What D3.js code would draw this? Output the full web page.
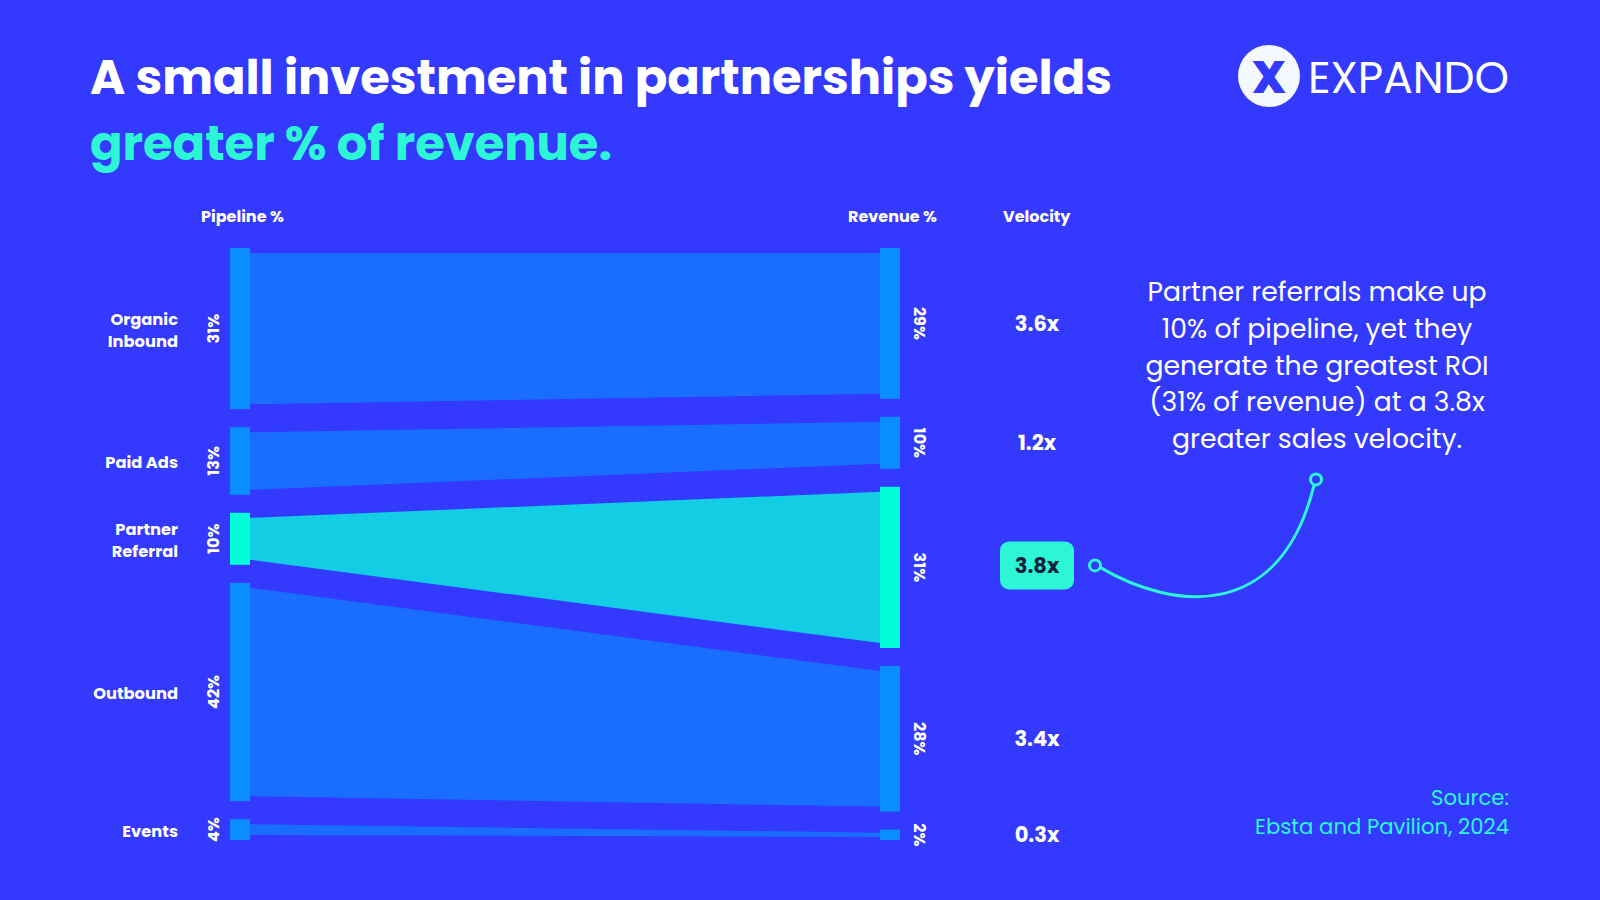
<!DOCTYPE html>
<html><head><meta charset="utf-8">
<script src="https://cdn.jsdelivr.net/npm/d3@7"></script>
<style>
html,body{margin:0;padding:0;background:#333afd;}
svg{display:block;}
text{font-family:Poppins, Inter, "Noto Sans", sans-serif;}
</style></head><body>
<svg id="chart" width="1600" height="900"></svg>
<script>
// ---- data ----
const categories = ["Organic\nInbound", "Paid Ads", "Partner\nReferral", "Outbound", "Events"];
const pipelinePct = [31, 13, 10, 42, 4];
const revenuePct = [29, 10, 31, 28, 2];
const velocity = ["3.6x", "1.2x", "3.8x", "3.4x", "0.3x"];
const highlightIndex = 2;
const columnHeaders = ["Pipeline %", "Revenue %", "Velocity"];
const titleLines = ["A small investment in partnerships yields", "greater % of revenue."];
const annotationLines = ["Partner referrals make up", "10% of pipeline, yet they", "generate the greatest ROI", "(31% of revenue) at a 3.8x", "greater sales velocity."];
const sourceLines = ["Source:", "Ebsta and Pavilion, 2024"];
const brand = "EXPANDO";

// ---- styles ----
const C = {
  bg: "#333afd", node: "#0a8eff", link: "#196dff",
  hiNode: "#00ffd8", hiLink: "#12cde4", aqua: "#2cf6d6",
  white: "#ffffff", dark: "#17203f"
};

const svg = d3.select("#chart");
svg.append("rect").attr("width", 1600).attr("height", 900).attr("fill", C.bg);

function fit(sel, target) {
  const node = sel.node();
  const fs = parseFloat(sel.attr("font-size"));
  const w = node.getComputedTextLength();
  if (w > 0) sel.attr("font-size", (fs * target / w).toFixed(2));
  return sel;
}

// ---- title ----
const t1 = svg.append("text").attr("x", 90).attr("y", 94).attr("fill", C.white)
  .attr("font-size", 50).attr("font-weight", 700).text(titleLines[0]);
fit(t1, 1022);
const t2 = svg.append("text").attr("x", 90).attr("y", 160).attr("fill", C.aqua)
  .attr("font-size", 50).attr("font-weight", 700).text(titleLines[1]);
fit(t2, 522);

// ---- logo ----
svg.append("circle").attr("cx", 1269).attr("cy", 76).attr("r", 31).attr("fill", "#f4f9ff");
svg.append("text").attr("x", 1269).attr("y", 76).attr("dy", "0.36em").attr("text-anchor", "middle")
  .attr("font-size", 46).attr("font-weight", 800).attr("fill", C.bg).text("X");
const br = svg.append("text").attr("x", 1308).attr("y", 93).attr("fill", C.white)
  .attr("font-size", 40).attr("font-weight", 400).text(brand);
fit(br, 201);

// ---- sankey layout ----
const topY = 248, gap = 18;
const y = d3.scaleLinear().domain([0, 100]).range([0, 520]);
const xL0 = 230, xL1 = 250, xR0 = 880, xR1 = 900;

function stack(vals) {
  let acc = topY;
  return vals.map(v => {
    const y0 = acc, h = y(v);
    acc += h + gap;
    return {y0, y1: y0 + h, c: y0 + h / 2};
  });
}
const L = stack(pipelinePct), R = stack(revenuePct);
const data = categories.map((c, i) => ({c, i, l: L[i], r: R[i], hi: i === highlightIndex}));

const inset = d => Math.min(5, (d.y1 - d.y0) * 0.3);
const area = d3.area().x(p => p.x).y0(p => p.y0).y1(p => p.y1);

svg.append("g").selectAll("path").data(data).join("path")
  .attr("d", d => area([
    {x: xL1, y0: d.l.y0 + inset(d.l), y1: d.l.y1 - inset(d.l)},
    {x: xR0, y0: d.r.y0 + inset(d.r), y1: d.r.y1 - inset(d.r)}
  ]))
  .attr("fill", d => d.hi ? C.hiLink : C.link);

svg.append("g").selectAll("rect").data(data).join("rect")
  .attr("x", xL0).attr("width", xL1 - xL0)
  .attr("y", d => d.l.y0).attr("height", d => d.l.y1 - d.l.y0)
  .attr("fill", d => d.hi ? C.hiNode : C.node);
svg.append("g").selectAll("rect").data(data).join("rect")
  .attr("x", xR0).attr("width", xR1 - xR0)
  .attr("y", d => d.r.y0).attr("height", d => d.r.y1 - d.r.y0)
  .attr("fill", d => d.hi ? C.hiNode : C.node);

// ---- headers ----
const hdr = [{t: columnHeaders[0], x: 201}, {t: columnHeaders[1], x: 848}, {t: columnHeaders[2], x: 1003}];
svg.append("g").selectAll("text").data(hdr).join("text")
  .attr("x", d => d.x).attr("y", 222).attr("fill", C.white)
  .attr("font-size", 16).attr("font-weight", 700).text(d => d.t);

// ---- category labels ----
const lh = 21.6;
const cat = svg.append("g").selectAll("text").data(data).join("text")
  .attr("text-anchor", "end").attr("fill", C.white)
  .attr("font-size", 16.3).attr("font-weight", 700);
cat.each(function(d) {
  const lines = d.c.split("\n");
  const n = lines.length;
  d3.select(this).selectAll("tspan").data(lines).join("tspan")
    .attr("x", 178)
    .attr("y", (s, k) => d.l.c + 1.5 + (k - (n - 1) / 2) * lh)
    .attr("dy", "0.36em")
    .text(s => s);
});

// ---- percent labels ----
svg.append("g").selectAll("text").data(data).join("text")
  .attr("transform", d => `translate(213,${d.l.c}) rotate(-90)`)
  .attr("text-anchor", "middle").attr("dy", "0.36em")
  .attr("fill", C.white).attr("font-size", 16).attr("font-weight", 700)
  .text(d => pipelinePct[d.i] + "%");
svg.append("g").selectAll("text").data(data).join("text")
  .attr("transform", d => `translate(920,${d.r.c}) rotate(90)`)
  .attr("text-anchor", "middle").attr("dy", "0.36em")
  .attr("fill", C.white).attr("font-size", 16).attr("font-weight", 700)
  .text(d => revenuePct[d.i] + "%");

// ---- velocity ----
const vx = 1037;
const hd = data[highlightIndex];
svg.append("rect").attr("x", vx - 37).attr("y", hd.r.c - 26).attr("width", 74).attr("height", 48)
  .attr("rx", 9).attr("fill", C.aqua);
svg.append("g").selectAll("text").data(data).join("text")
  .attr("x", vx).attr("y", d => d.r.c - (d.hi ? 2 : 0)).attr("dy", "0.36em").attr("text-anchor", "middle")
  .attr("fill", d => d.hi ? C.dark : C.white)
  .attr("font-size", 21).attr("font-weight", 700)
  .text(d => velocity[d.i]);

// ---- annotation ----
const ann = svg.append("g").selectAll("text").data(annotationLines).join("text")
  .attr("x", 1317).attr("y", (d, k) => 300.7 + k * 36.9).attr("text-anchor", "middle")
  .attr("fill", C.white).attr("font-size", 26).attr("font-weight", 400).text(d => d);
{
  const first = ann.filter((d, k) => k === 0);
  const w = first.node().getComputedTextLength();
  const fs = 26 * 339 / w;
  ann.attr("font-size", fs.toFixed(2));
}

const sx = vx + 37 + 21, sy = hd.r.c - 2;
svg.append("path")
  .attr("d", `M${sx + 5},${sy + 2} C${sx + 80},${sy + 46} ${sx + 185},${sy + 56} ${sx + 219},${sy - 80}`)
  .attr("fill", "none").attr("stroke", C.aqua).attr("stroke-width", 3);
svg.append("circle").attr("cx", sx).attr("cy", sy).attr("r", 5.5)
  .attr("fill", C.bg).attr("stroke", C.aqua).attr("stroke-width", 3);
svg.append("circle").attr("cx", sx + 221).attr("cy", sy - 86).attr("r", 5.5)
  .attr("fill", C.bg).attr("stroke", C.aqua).attr("stroke-width", 3);

// ---- source ----
const src = svg.append("g").selectAll("text").data(sourceLines).join("text")
  .attr("x", 1509).attr("y", (d, k) => 805 + k * 28.5).attr("text-anchor", "end")
  .attr("fill", C.aqua).attr("font-size", 21).attr("font-weight", 400).text(d => d);
{
  const last = src.filter((d, k) => k === 1);
  const w = last.node().getComputedTextLength();
  src.attr("font-size", (21 * 254 / w).toFixed(2));
}
</script>
</body></html>
